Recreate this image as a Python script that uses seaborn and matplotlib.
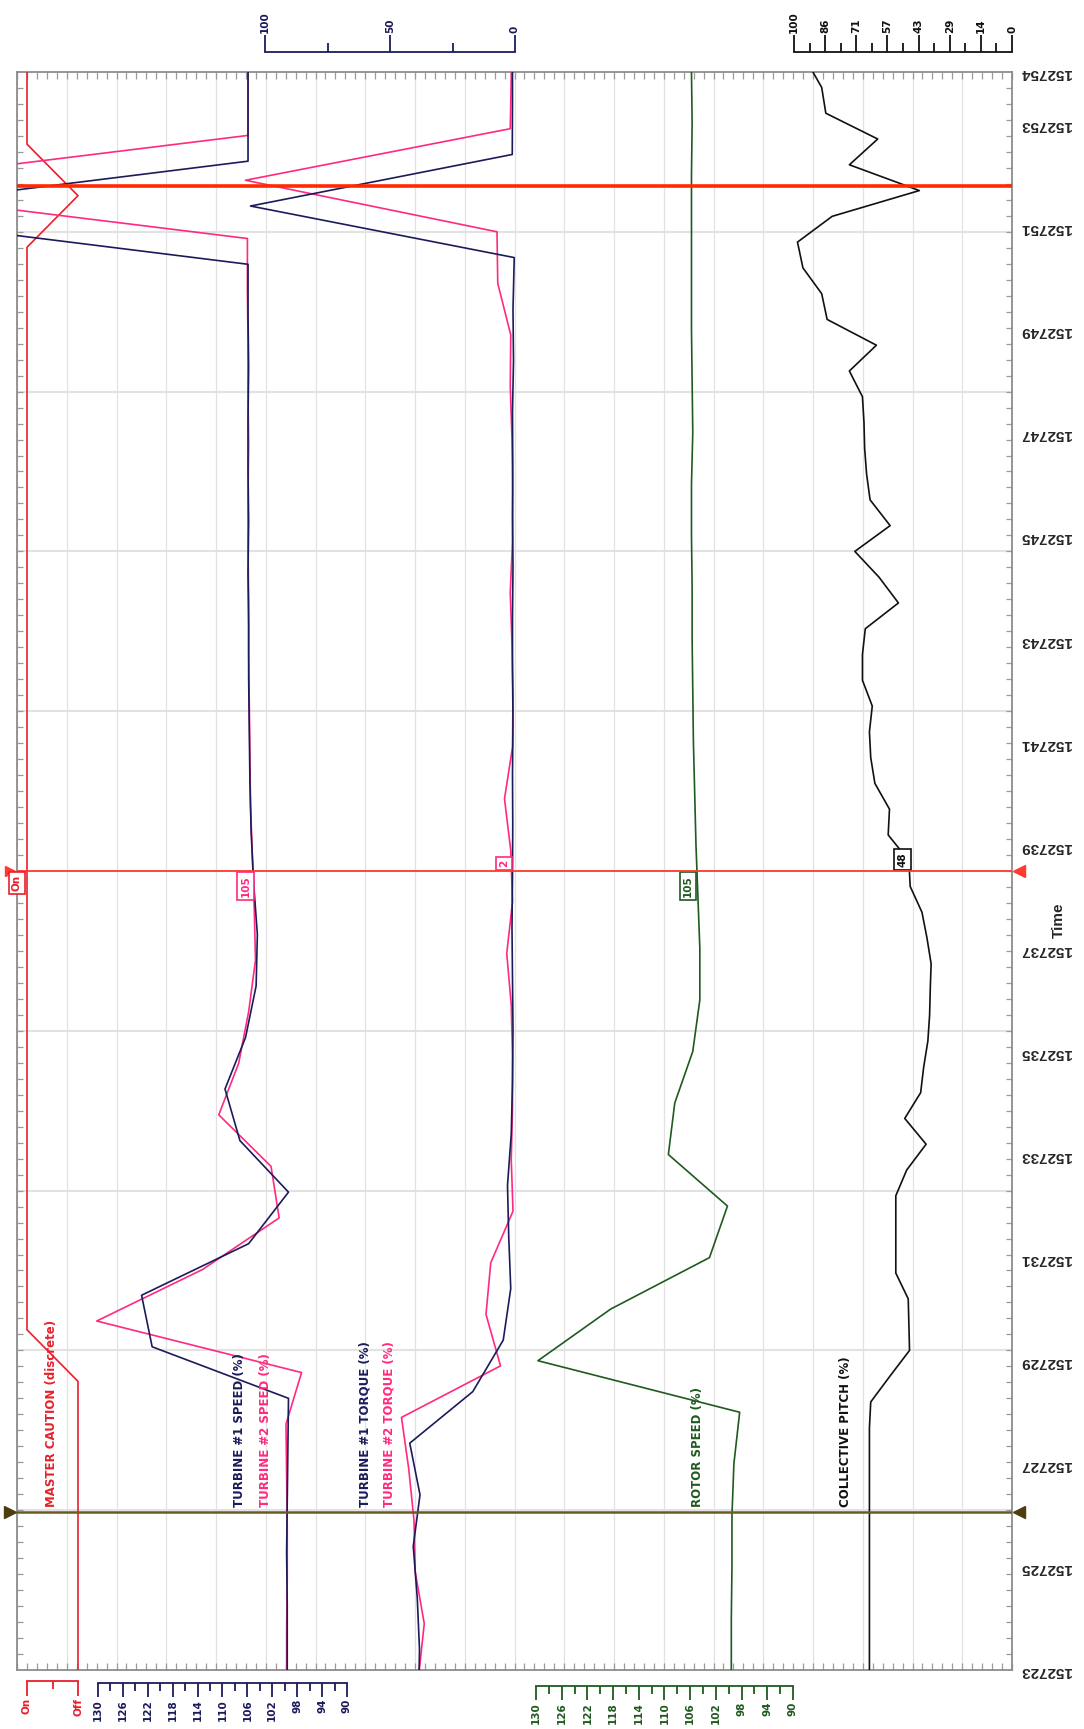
import numpy as np
import matplotlib
matplotlib.use("Agg")
import matplotlib.pyplot as plt
import seaborn as sns

# ---- data (time as HHMMSS, each channel sampled with its own phase) ----
T_START, T_END = 152723, 152754

caution_time = 152722.6 + np.arange(33)
caution_on = [0, 0, 0, 0, 0, 0, 0, 1, 1, 1, 1, 1, 1, 1, 1, 1, 1, 1, 1, 1, 1, 1,
              1, 1, 1, 1, 1, 1, 1, 0, 1, 1, 1]

speed1_time = 152722.27 + np.arange(33)
speed1 = [99.6, 99.6, 99.6, 99.7, 99.6, 99.5, 99.4, 121.3, 123.0, 105.8, 99.4,
          107.2, 109.6, 106.3, 104.6, 104.4, 105.0, 105.4, 105.6, 105.7, 105.8,
          105.8, 105.9, 105.8, 105.9, 105.9, 105.8, 105.9, 105.9, 172.5, 105.9,
          105.9, 105.9]

speed2_time = 152722.77 + np.arange(33)
speed2 = [99.7, 99.7, 99.6, 99.6, 99.7, 99.8, 97.3, 130.2, 113.2, 100.9, 102.2,
          110.6, 107.4, 105.8, 104.7, 104.9, 105.2, 105.5, 105.6, 105.7, 105.8,
          105.8, 105.9, 105.9, 105.8, 105.9, 105.9, 106.0, 106.0, 173.3, 105.9,
          105.9, 105.9]

torque1_time = 152722.4 + np.arange(33)
torque1 = [38.6, 38.2, 39.1, 40.7, 38.0, 42.1, 16.9, 4.7, 1.7, 2.5, 3.0, 1.5,
           1.0, 0.8, 1.0, 1.2, 1.0, 0.9, 1.0, 0.8, 1.0, 1.0, 0.8, 1.0, 0.9, 1.0,
           0.6, 0.8, 0.3, 105.8, 1.1, 1.0, 1.0]

torque2_time = 152722.9 + np.arange(33)
torque2 = [38.5, 36.3, 39.9, 40.4, 42.5, 45.4, 5.8, 11.6, 9.7, 0.8, 1.5, 1.0,
           1.0, 1.5, 3.3, 1.0, 1.7, 4.2, 1.0, 0.8, 1.2, 1.9, 1.0, 0.9, 1.2, 1.9,
           1.7, 6.9, 7.2, 107.8, 1.9, 1.5, 1.5]

rotor_time = 152723 + np.arange(32)
rotor = [99.6, 99.6, 99.5, 99.5, 99.2, 98.3, 129.7, 118.4, 103.0, 100.2, 109.4,
         108.4, 105.6, 104.5, 104.5, 104.8, 105.1, 105.3, 105.5, 105.6, 105.7,
         105.7, 105.8, 105.8, 105.6, 105.7, 105.8, 105.8, 105.8, 105.8, 105.7,
         105.8]

pitch_time = 152722.7 + 0.5 * np.arange(64)
pitch = [65.4, 65.4, 65.4, 65.4, 65.4, 65.4, 65.4, 65.4, 65.4, 65.4, 65.4,
         64.8, 56.0, 47.0, 47.3, 47.6, 53.3, 53.3, 53.3, 53.3, 48.3, 39.4, 49.2,
         41.9, 40.5, 38.6, 37.8, 37.5, 37.1, 39.0, 41.3, 46.7, 47.3, 56.8, 56.2,
         62.9, 64.8, 65.4, 64.1, 68.6, 68.6, 67.3, 52.1, 61.0, 72.1, 55.9, 65.1,
         66.7, 67.6, 67.9, 68.6, 74.6, 62.2, 84.8, 87.3, 95.9, 98.4, 82.5, 42.5,
         74.6, 61.6, 85.4, 87.3, 94.0]

cursor_red = 152738.5
cursor_olive = 152726.07
cursor_top = 152751.79
cursor_tags = {'speed': '105', 'torque': '2', 'rotor': '105', 'pitch': '48', 'caution': 'On'}
cursor_vals = {'speed': 105.2, 'torque': 1.5, 'rotor': 105.3, 'pitch': 47.0}

time_ticks = [152723, 152725, 152727, 152729, 152731, 152733, 152735, 152737,
              152739, 152741, 152743, 152745, 152747, 152749, 152751, 152753, 152754]

speed_ticks = [130, 126, 122, 118, 114, 110, 106, 102, 98, 94, 90]
torque_ticks = [100, 50, 0]
pitch_ticks = [100, 86, 71, 57, 43, 29, 14, 0]

# ---- colours ----
NAVY = '#1b1b5c'
PINK = '#ff2a7f'
GREEN = '#1f5a1f'
RED = '#e8202a'
BLACK = '#111111'

sns.set_style("white")
plt.rcParams['font.family'] = ['DejaVu Sans']

W, H = 1084, 1729
PX0, PX1, PY0, PY1 = 17, 1012, 72, 1670
fig = plt.figure(figsize=(W / 100, H / 100), dpi=100)


def rect(x0, y0, x1, y1):
    return [x0 / W, 1 - y1 / H, (x1 - x0) / W, (y1 - y0) / H]


# frame with grid
frame = fig.add_axes(rect(PX0, PY0, PX1, PY1), label='frame')
frame.set_xlim(0, 20)
frame.set_ylim(T_START, T_END)
frame.set_xticks(np.arange(0, 21, 1))
frame.set_xticks(np.arange(0, 20.01, 0.2), minor=True)
frame.xaxis.remove_overlapping_locs = False
frame.tick_params(axis='x', which='major', length=0, labelbottom=False)
frame.tick_params(axis='x', which='minor', direction='in', length=5, width=0.9,
                  color='#9a9a9a', top=True, bottom=True)
frame.grid(axis='x', which='major', color='#e2e2e2', lw=0.9)
frame.set_yticks(time_ticks)
frame.set_yticklabels([str(t) for t in time_ticks], rotation=180, fontsize=11,
                      family='Liberation Sans', fontweight='bold')
frame.set_yticks(T_START + 0.31 * np.arange(101), minor=True)
frame.tick_params(axis='y', which='major', length=0, left=False, right=True,
                  labelleft=False, labelright=True, pad=6)
frame.tick_params(axis='y', which='minor', direction='in', length=4.5, width=0.9,
                  color='#9a9a9a', left=True, right=True)
for k in range(1, 10):
    frame.axhline(T_START + 3.1 * k, color='#e2e2e2', lw=1.5, zorder=0)
for s in frame.spines.values():
    s.set_color('#8c8c8c')
    s.set_linewidth(1.3)


def track(va, pa, vb, pb, name):
    k = (pb - pa) / (vb - va)
    a = fig.add_axes(rect(PX0, PY0, PX1, PY1), facecolor='none', label=name)
    a.set_xlim(va + (PX0 - pa) / k, va + (PX1 - pa) / k)
    a.set_ylim(T_START, T_END)
    a.axis('off')
    return a


ax_caution = track(1, 27, 0, 78, 'caution')
ax_speed = track(130, 98, 90, 347, 'speed')
ax_torque = track(100, 265, 0, 515, 'torque')
ax_rotor = track(130, 536, 90, 793, 'rotor')
ax_pitch = track(100, 794, 0, 1012, 'pitch')

LW = 1.2
sns.lineplot(x=caution_on, y=caution_time, sort=False, estimator=None, color=RED, lw=LW, ax=ax_caution)
sns.lineplot(x=speed2, y=speed2_time, sort=False, estimator=None, color=PINK, lw=LW, ax=ax_speed)
sns.lineplot(x=speed1, y=speed1_time, sort=False, estimator=None, color=NAVY, lw=LW, ax=ax_speed)
sns.lineplot(x=torque2, y=torque2_time, sort=False, estimator=None, color=PINK, lw=LW, ax=ax_torque)
sns.lineplot(x=torque1, y=torque1_time, sort=False, estimator=None, color=NAVY, lw=LW, ax=ax_torque)
sns.lineplot(x=rotor, y=rotor_time, sort=False, estimator=None, color=GREEN, lw=LW, ax=ax_rotor)
sns.lineplot(x=pitch, y=pitch_time, sort=False, estimator=None, color=BLACK, lw=LW, ax=ax_pitch)
for a in (ax_caution, ax_speed, ax_torque, ax_rotor, ax_pitch):
    a.set_xlabel('')
    a.set_ylabel('')

# cursors
cur = fig.add_axes(rect(PX0, PY0, PX1, PY1), facecolor='none', label='cursors')
cur.set_xlim(0, 1)
cur.set_ylim(T_START, T_END)
cur.axis('off')
cur.axhline(cursor_olive, color='#6b5a24', lw=1.8)
cur.axhline(cursor_red, color='#ff3b30', lw=1.3)
cur.axhline(cursor_top, color='#ff2a00', lw=2.6)
right_x = (1019 - PX0) / (PX1 - PX0)
left_x = (10 - PX0) / (PX1 - PX0)
cur.plot([left_x], [cursor_olive], marker='>', ms=8, color='#4d3d0f', clip_on=False)
cur.plot([right_x], [cursor_olive], marker='<', ms=8, color='#4d3d0f', clip_on=False)
cur.plot([right_x], [cursor_red], marker='<', ms=8, color='#ff3b30', clip_on=False)
cur.plot([left_x], [cursor_red], marker='>', ms=7, color='#ff3b30', clip_on=False)


def tag(ax, x, text, color, above):
    ax.annotate(text, (x, cursor_red), xytext=(-2, 4 if above else -4),
                textcoords='offset pixels', rotation=90, ha='right',
                va='bottom' if above else 'top', fontsize=7.5, fontweight='bold',
                color=color, annotation_clip=False,
                bbox=dict(boxstyle='square,pad=0.3', fc='white', ec=color, lw=1.2))


tag(ax_speed, cursor_vals['speed'], cursor_tags['speed'], PINK, False)
tag(ax_torque, cursor_vals['torque'], cursor_tags['torque'], PINK, True)
tag(ax_rotor, cursor_vals['rotor'], cursor_tags['rotor'], GREEN, False)
tag(ax_pitch, cursor_vals['pitch'], cursor_tags['pitch'], BLACK, True)
cur.annotate(cursor_tags['caution'], (0, cursor_red), xytext=(0, -4),
             textcoords='offset pixels', rotation=90, ha='center', va='top',
             fontsize=7.5, fontweight='bold', color=RED, annotation_clip=False,
             bbox=dict(boxstyle='square,pad=0.3', fc='white', ec=RED, lw=1.2))

# channel names
names = [('MASTER CAUTION (discrete)', 52, RED),
         ('TURBINE #1 SPEED (%)', 239, NAVY),
         ('TURBINE #2 SPEED (%)', 266, PINK),
         ('TURBINE #1 TORQUE (%)', 365, NAVY),
         ('TURBINE #2 TORQUE (%)', 389, PINK),
         ('ROTOR SPEED (%)', 697, GREEN),
         ('COLLECTIVE PITCH (%)', 846, BLACK)]
for text, px, c in names:
    fig.text(px / W, 1 - 1507 / H, text, rotation=90, ha='center', va='bottom',
             fontsize=8.5, fontweight='bold', color=c)

fig.text(1059 / W, 1 - 920 / H, 'Time', rotation=90, ha='center', va='center',
         fontsize=11, fontweight='bold', family='Liberation Sans')


# scale rulers
def ruler(x0, x1, y, lim, major, labels, minor, color, top, maj_len, min_len):
    a = fig.add_axes([x0 / W, 1 - y / H, (x1 - x0) / W, 1e-4])
    a.set_xlim(*lim)
    a.set_yticks([])
    a.patch.set_visible(False)
    for s in a.spines.values():
        s.set_visible(False)
    side = 'top' if top else 'bottom'
    a.spines[side].set_visible(True)
    a.spines[side].set_color(color)
    a.spines[side].set_linewidth(1.3)
    if top:
        a.xaxis.tick_top()
    a.set_xticks(major)
    a.set_xticklabels(labels, rotation=90, fontsize=7.5, fontweight='bold', color=color)
    a.set_xticks(minor, minor=True)
    a.tick_params(axis='x', which='both', top=top, bottom=not top,
                  labeltop=top, labelbottom=not top)
    a.tick_params(axis='x', which='major', direction='out', length=maj_len,
                  width=1.3, color=color, pad=1.5)
    a.tick_params(axis='x', which='minor', direction='out', length=min_len,
                  width=1.3, color=color)
    return a


ruler(27, 78, 1681, (1, 0), [1, 0], ['On', 'Off'], [0.5], RED, False, 11, 5.5)
ruler(98, 347, 1683, (130, 90), speed_ticks, [str(v) for v in speed_ticks],
      [v - 2 for v in speed_ticks[:-1]], NAVY, False, 10, 6)
ruler(536, 793, 1686, (130, 90), speed_ticks, [str(v) for v in speed_ticks],
      [v - 2 for v in speed_ticks[:-1]], GREEN, False, 10, 6)
ruler(265, 515, 52, (100, 0), torque_ticks, [str(v) for v in torque_ticks],
      [75, 25], NAVY, True, 12, 6.5)
ruler(794, 1012, 52, (100, 0), np.linspace(100, 0, 8), [str(v) for v in pitch_ticks],
      np.linspace(100, 0, 8)[:-1] - 100 / 14, BLACK, True, 12, 6.5)

fig.savefig('out.png', dpi=100)
